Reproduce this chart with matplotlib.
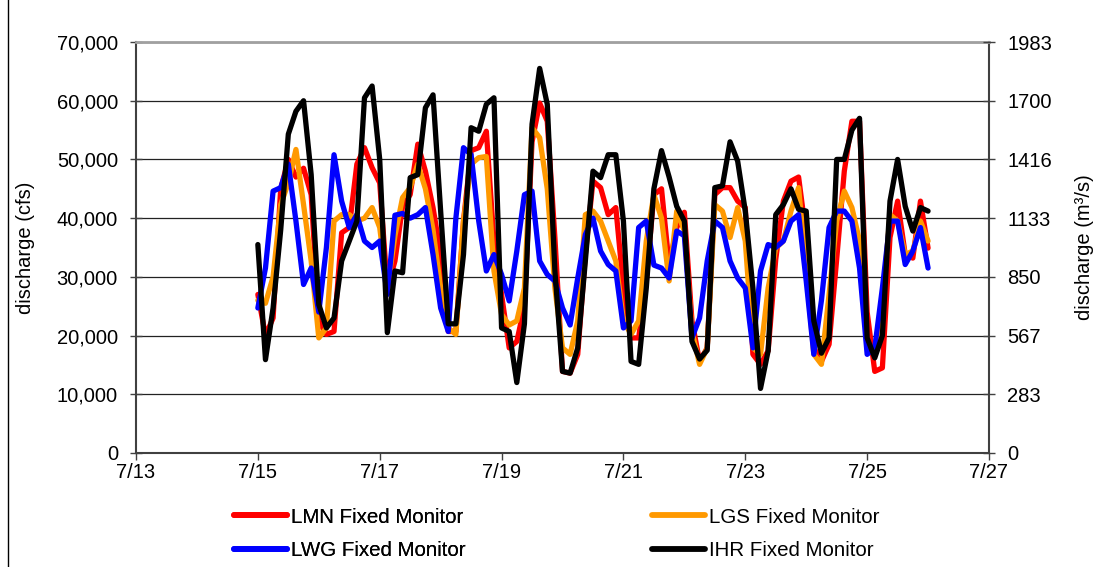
import matplotlib
matplotlib.use("Agg")
import matplotlib.pyplot as plt
from matplotlib.ticker import FuncFormatter, FixedLocator
from matplotlib.lines import Line2D
import numpy as np

plt.rcParams['font.family'] = ['Liberation Sans', 'DejaVu Sans']

# hours since 7/15 00:00, 3-hour steps
hours = list(range(0, 265, 3))

lmn = [27000, 20000, 23000, 45000, 50000, 47000, 48500, 44000, 22500, 20200,
       20700, 37500, 38400, 49200, 52000, 48600, 46000, 28000, 32700, 42000,
       44000, 52600, 48000, 41800, 33800, 20700, 20700, 39500, 51500, 52000,
       54800, 36000, 27000, 17900, 19000, 25000, 53000, 59600, 56500, 36700,
       13900, 13600, 16800, 33800, 46300, 45200, 40600, 41800, 28100, 19600,
       19600, 29300, 44000, 45000, 32000, 38400, 41000, 22500, 15600, 17900,
       44000, 45200, 45200, 42900, 41800, 16800, 15100, 17400, 33000, 42900,
       46300, 47000, 37000, 17900, 15600, 18500, 33000, 48000, 56500, 56500,
       24000, 13900, 14500, 36700, 42900, 33800, 33200, 42900, 34900]

lgs = [26000, 25500, 30000, 42300, 46000, 51700, 42300, 32700, 19600, 21300,
       39500, 40600, 40600, 39500, 40000, 41800, 38400, 28000, 37000, 43500,
       45200, 49200, 45000, 38000, 28100, 21300, 20200, 39500, 49200, 50300,
       50500, 31000, 23600, 21800, 22500, 28100, 55400, 53700, 45000, 28100,
       17900, 16800, 22500, 40600, 41200, 39500, 36100, 32700, 22500, 20200,
       22500, 36100, 44000, 40000, 29300, 41200, 37800, 20700, 15100, 17900,
       42300, 41200, 36700, 41800, 36100, 17900, 16800, 28100, 34900, 36100,
       41200, 45200, 31000, 16800, 15100, 27000, 39500, 44600, 41800, 36100,
       17900, 16800, 25300, 40600, 39500, 33800, 34400, 39500, 36100]

lwg = [24700, 31500, 44600, 45200, 49200, 39500, 28700, 31500, 24000, 35000,
       50800, 42900, 38400, 40600, 36100, 35000, 36100, 27000, 40500, 40800,
       40000, 40600, 41800, 33800, 24700, 20700, 40000, 52000, 50800, 39500,
       31000, 33800, 30400, 25900, 34400, 44000, 44600, 32700, 30400, 29300,
       24700, 21800, 29800, 37200, 40000, 34400, 32100, 31000, 21300, 22500,
       38400, 39500, 32000, 31500, 29800, 37800, 37000, 19600, 23000, 32700,
       39500, 38400, 32700, 29800, 28100, 17900, 31000, 35500, 35000, 36100,
       39500, 40600, 29300, 16800, 26000, 38400, 41200, 41200, 39500, 31500,
       16800, 17900, 28100, 39500, 39500, 32100, 34400, 38400, 31500]

ihr = [35500, 15900, 24700, 38000, 54300, 58200, 60000, 47400, 25300, 21300,
       23000, 32700, 36100, 39500, 60500, 62500, 50000, 20500, 31000, 30700,
       46900, 47400, 58800, 61000, 41200, 22000, 22000, 33800, 55400, 54800,
       59400, 60500, 21300, 20700, 12000, 22000, 56000, 65500, 59400, 31000,
       13900, 13600, 17900, 32700, 48000, 46900, 50800, 50800, 39500, 15600,
       15100, 28100, 45000, 51500, 47000, 42000, 39500, 19000, 16000, 17500,
       45200, 45500, 53000, 49700, 41200, 28100, 11000, 17400, 40600, 42300,
       45000, 41500, 41200, 22500, 17000, 19600, 50000, 50000, 55000, 57000,
       19600, 16200, 20000, 42900, 50000, 42000, 37800, 41800, 41200]

series_names = ["LMN Fixed Monitor", "LGS Fixed Monitor", "LWG Fixed Monitor", "IHR Fixed Monitor"]
series_colors = ["#FF0000", "#FF9900", "#0000FF", "#000000"]

x_ticks = [13, 15, 17, 19, 21, 23, 25, 27]
x_tick_labels = ["7/13", "7/15", "7/17", "7/19", "7/21", "7/23", "7/25", "7/27"]
y_ticks = [0, 10000, 20000, 30000, 40000, 50000, 60000, 70000]
y2_tick_labels = ["0", "283", "567", "850", "1133", "1416", "1700", "1983"]

days = 15 + np.array(hours) / 24.0

fig = plt.figure(figsize=(11.12, 5.67), dpi=100)
ax = fig.add_axes([136/1112, 1-453/567, (989-136)/1112, (453-42)/567])

for vals, c in zip([lmn, lgs, lwg, ihr], series_colors):
    ax.plot(days, vals, color=c, lw=3.8, solid_joinstyle='round', solid_capstyle='round')

ax.set_xlim(13, 27)
ax.set_ylim(0, 70000)
ax.set_xticks(x_ticks)
ax.set_xticklabels(x_tick_labels)
ax.set_yticks(y_ticks)
ax.yaxis.set_major_formatter(FuncFormatter(lambda v, p: f"{v:,.0f}"))
ax.grid(axis='y', color='#222222', lw=0.9)
ax.set_axisbelow(True)

fs = 14.5
ax.tick_params(axis='y', direction='inout', length=9, width=1, pad=8.5,
               labelsize=fs, colors='#404040', labelcolor='black')
ax.tick_params(axis='x', direction='out', length=5, width=1, pad=2,
               labelsize=fs, colors='#404040', labelcolor='black')
for s in ['left', 'right', 'bottom']:
    ax.spines[s].set_color('#404040')
    ax.spines[s].set_linewidth(1.5)
ax.spines['top'].set_color('#a0a0a0')
ax.spines['top'].set_linewidth(2)

ax.set_ylabel("discharge (cfs)", fontsize=fs)
ax.yaxis.set_label_coords((35-136)/853, 0.5)

ax2 = ax.twinx()
ax2.set_ylim(0, 70000)
ax2.yaxis.set_major_locator(FixedLocator(y_ticks))
ax2.set_yticklabels(y2_tick_labels)
ax2.tick_params(axis='y', direction='inout', length=9, width=1, pad=8.5,
                labelsize=fs, colors='#404040', labelcolor='black')
for s in ax2.spines.values():
    s.set_visible(False)
ax2.set_ylabel("discharge (m³/s)", fontsize=fs)
ax2.yaxis.set_label_coords((1075-136)/853, 0.5)

handles = [Line2D([], [], color=c, lw=4.2, solid_capstyle='round') for c in series_colors]
ycen = 1 - 534/567
fsl = 14.8
leg1 = fig.legend([handles[0], handles[2]], [series_names[0], series_names[2]],
                  loc='center left', bbox_to_anchor=(234/1112, ycen), frameon=False,
                  fontsize=fsl, handlelength=2.6, handletextpad=0.15, borderpad=0,
                  borderaxespad=0, labelspacing=0.72)
leg2 = fig.legend([handles[1], handles[3]], [series_names[1], series_names[3]],
                  loc='center left', bbox_to_anchor=(652/1112, ycen), frameon=False,
                  fontsize=fsl, handlelength=2.6, handletextpad=0.15, borderpad=0,
                  borderaxespad=0, labelspacing=0.72)
fig.add_artist(leg1)

fig.add_artist(Line2D([7.5/1112, 7.5/1112], [0, 1], transform=fig.transFigure, color='black', lw=1))

fig.savefig("out.png", dpi=100)
